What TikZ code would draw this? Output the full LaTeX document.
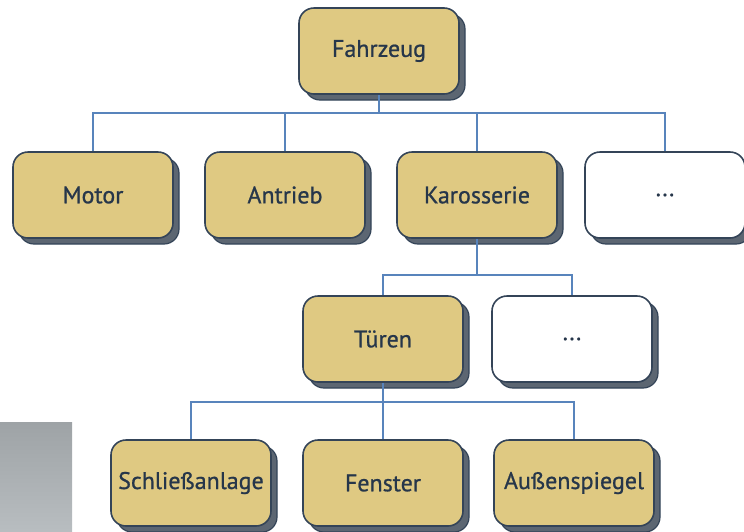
\documentclass[tikz,border=0pt]{standalone}
\usepackage{fontspec}
\setmainfont{PT Sans}[FakeBold=0.8]
\usetikzlibrary{shadows}
\definecolor{boxfill}{RGB}{223,201,130}
\definecolor{boxedge}{RGB}{52,68,88}
\definecolor{shadowc}{RGB}{92,102,114}
\definecolor{linec}{RGB}{88,132,188}
\definecolor{textc}{RGB}{38,54,74}
\tikzset{
  boxbase/.style={draw=boxedge, line width=1.6pt, rounded corners=15pt,
    minimum width=160pt, minimum height=86pt, inner sep=0pt,
    text=textc, font=\fontsize{24}{27}\selectfont,
    copy shadow={shadow xshift=6pt, shadow yshift=-6pt, fill=shadowc, draw=boxedge, line width=1.2pt}},
  tanbox/.style={boxbase, fill=boxfill},
  whitebox/.style={boxbase, fill=white},
  conn/.style={draw=linec, line width=1.6pt}
}
\begin{document}
\begin{tikzpicture}[x=1pt,y=-1pt]
\useasboundingbox (0,0) rectangle (744,531);
\shade[top color={rgb,255:red,158;green,163;blue,166}, bottom color={rgb,255:red,184;green,189;blue,192}] (0,422) rectangle (72,531);
\coordinate (b1) at (379,113);
\coordinate (b2) at (477,275);
\coordinate (b3) at (383,402);
\node[tanbox] (fz) at (379,51) {Fahrzeug};
\node[tanbox] (motor) at (93,195) {Motor};
\node[tanbox] (antrieb) at (285,195) {Antrieb};
\node[tanbox] (karo) at (477,195) {Karosserie};
\node[whitebox] (dots1) at (665,195) {...};
\node[tanbox] (tueren) at (383,339) {Türen};
\node[whitebox] (dots2) at (572,339) {...};
\node[tanbox] (schl) at (191,483) {Schließanlage};
\node[tanbox] (fenster) at (383,483) {Fenster};
\node[tanbox] (aussen) at (574,483) {Außenspiegel};
\draw[conn] (fz.south) -- (b1);
\draw[conn] (motor.north) |- (b1) -| (dots1.north);
\draw[conn] (antrieb.north) -- (antrieb.north |- b1);
\draw[conn] (karo.north) -- (karo.north |- b1);
\draw[conn] (karo.south) -- (b2);
\draw[conn] (tueren.north) |- (b2) -| (dots2.north);
\draw[conn] (tueren.south) -- (b3);
\draw[conn] (schl.north) |- (b3) -| (aussen.north);
\draw[conn] (fenster.north) -- (b3);
\end{tikzpicture}
\end{document}
